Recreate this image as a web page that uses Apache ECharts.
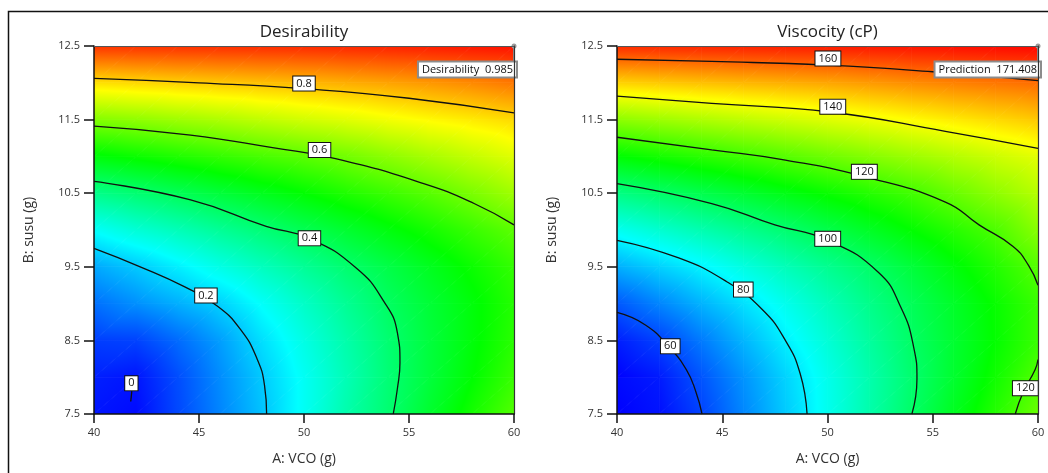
<!DOCTYPE html>
<html><head><meta charset="utf-8">
<script src="https://cdn.jsdelivr.net/npm/echarts@6/dist/echarts.min.js"></script>
<style>html,body{margin:0;padding:0;background:#fff}#c{width:1048px;height:473px}</style>
</head><body><div id="c"></div>
<script>
// ---------- data ----------
const aNodes = [40, 42, 44, 46, 48, 50, 52, 54, 56, 58, 60];          // A: VCO (g)
const bNodes = [7.5, 8, 8.5, 9, 9.5, 10, 10.5, 11, 11.5, 12, 12.5];   // B: susu (g)
const xTicks = [40, 45, 50, 55, 60];
const yTicks = [7.5, 8.5, 9.5, 10.5, 11.5, 12.5];

// Desirability surface, one row per B node (bottom to top), one column per A node
const desirability = [
  [0.02, 0.01, 0.07, 0.13, 0.19, 0.26, 0.33, 0.39, 0.455, 0.52, 0.58],
  [0.03, 0.02, 0.075, 0.137, 0.198, 0.26, 0.322, 0.385, 0.442, 0.498, 0.555],
  [0.06, 0.065, 0.105, 0.155, 0.219, 0.276, 0.333, 0.39, 0.441, 0.49, 0.54],
  [0.11, 0.141, 0.172, 0.205, 0.255, 0.305, 0.355, 0.405, 0.448, 0.49, 0.535],
  [0.165, 0.197, 0.235, 0.275, 0.314, 0.353, 0.392, 0.43, 0.47, 0.51, 0.55],
  [0.255, 0.29, 0.32, 0.353, 0.385, 0.419, 0.453, 0.487, 0.52, 0.555, 0.59],
  [0.365, 0.39, 0.416, 0.444, 0.472, 0.50, 0.53, 0.557, 0.586, 0.62, 0.657],
  [0.49, 0.51, 0.53, 0.55, 0.57, 0.588, 0.611, 0.638, 0.665, 0.692, 0.72],
  [0.628, 0.64, 0.655, 0.67, 0.688, 0.705, 0.72, 0.738, 0.755, 0.77, 0.787],
  [0.78, 0.788, 0.796, 0.804, 0.812, 0.82, 0.83, 0.84, 0.852, 0.866, 0.883],
  [0.95, 0.952, 0.954, 0.956, 0.958, 0.96, 0.964, 0.968, 0.973, 0.979, 0.985]
];
// Viscocity (cP) surface
const viscosity = [
  [50, 53.5, 59.8, 67.8, 75.8, 83.9, 91.9, 100, 108.2, 116.3, 124.4],
  [52, 55, 61.9, 69.3, 76.8, 84.3, 91.7, 99.1, 106.5, 113.9, 121.4],
  [55.5, 59.7, 66.4, 73.3, 80.2, 86.8, 93.5, 100.2, 106.3, 112.4, 118.6],
  [62.4, 67.7, 73.1, 78.4, 84.1, 90, 95.9, 101.7, 107.3, 112.9, 118.6],
  [72.6, 76.6, 80.7, 85.5, 90.3, 95.1, 99.9, 105.2, 110.6, 116, 122],
  [83.6, 87.5, 91.3, 95.2, 99, 103.3, 107.7, 112.1, 116.5, 121, 128],
  [96.6, 99.8, 103, 106.3, 109.7, 113, 116.3, 119.7, 124.2, 128.8, 133.4],
  [111.7, 114.3, 116.8, 119.4, 122.1, 124.9, 127.6, 130.4, 133.2, 136, 138.8],
  [128.6, 130.5, 132.4, 134.3, 136.2, 138.2, 140.1, 142.2, 144.3, 146.4, 148.5],
  [147.2, 148.3, 149.4, 150.5, 151.5, 152.5, 153.9, 155.4, 156.8, 158.1, 159.3],
  [167, 167.4, 167.8, 168.2, 168.6, 169, 169.4, 169.9, 170.4, 170.9, 171.4]
];

// contour lines [A, B]
const dC0   = [[41.8, 7.81], [41.75, 7.67]];
const dC02  = [[40, 9.75], [42.2, 9.5], [44.3, 9.23], [45.9, 8.96], [47.0, 8.64], [47.75, 8.26], [48.12, 7.89], [48.22, 7.5]];
const dC04  = [[40, 10.66], [44.6, 10.41], [48.2, 10.05], [50.3, 9.88], [52.5, 9.48], [53.8, 9.03], [54.45, 8.6], [54.57, 8.2], [54.45, 7.85], [54.25, 7.5]];
const dC06  = [[40, 11.41], [44.6, 11.29], [48.5, 11.12], [51.5, 10.97], [55.7, 10.63], [58.1, 10.36], [60, 10.07]];
const dC08  = [[40, 12.06], [45, 12.0], [50, 11.92], [55, 11.79], [60, 11.59]];
const vC60  = [[40, 8.88], [41.35, 8.71], [42.5, 8.4], [43.3, 8.1], [43.75, 7.8], [44.04, 7.5]];
const vC80  = [[40, 9.86], [42.93, 9.62], [45.2, 9.3], [46.9, 8.92], [48.0, 8.5], [48.7, 8.05], [49.03, 7.5]];
const vC100 = [[40, 10.63], [44.5, 10.36], [47.5, 10.07], [50, 9.86], [52.4, 9.43], [53.5, 8.94], [54.1, 8.4], [54.25, 7.98], [54.01, 7.5]];
const vC120a = [[40, 11.26], [44.5, 11.09], [48, 10.95], [51.7, 10.73], [55.6, 10.38], [57.2, 10.07], [58.8, 9.78], [59.55, 9.52], [60, 9.25]];
const vC120b = [[58.92, 7.5], [59.3, 7.8], [59.86, 8.1], [60, 8.24]];
const vC140 = [[40, 11.82], [44.5, 11.72], [50.2, 11.6], [55.6, 11.34], [60, 11.11]];
const vC160 = [[40, 12.32], [44.5, 12.29], [50, 12.24], [55, 12.15], [60, 12.03]];

// contour labels [A, B, text]
const dLabels = [[50.0, 11.99, '0.8'], [50.74, 11.087, '0.6'], [50.26, 9.887, '0.4'], [45.33, 9.11, '0.2'], [41.78, 7.917, '0']];
const vLabels = [[50.02, 12.33, '160'], [50.25, 11.675, '140'], [51.75, 10.79, '120'], [50.01, 9.88, '100'], [46.0, 9.19, '80'], [42.53, 8.42, '60'], [59.4, 7.85, '120']];

// flagged point [A, B] and its read-out
const dFlag = [60, 12.5]; const dFlagText = 'Desirability  0.985';
const vFlag = [60, 12.5]; const vFlagText = 'Prediction  171.408';

const dRange = [0, 1];
const vRange = [52, 172];
const palette = [[0, 0, 255], [0, 255, 255], [0, 255, 0], [255, 255, 0], [255, 0, 0]];

// ---------- rendering ----------
const FONT = 'Open Sans';
function colorOf(v, range) {
  let t = (v - range[0]) / (range[1] - range[0]);
  t = Math.max(0, Math.min(1, t));
  const seg = t * (palette.length - 1);
  const k = Math.min(Math.floor(seg), palette.length - 2);
  const f = seg - k;
  const c0 = palette[k], c1 = palette[k + 1];
  return 'rgb(' + [0, 1, 2].map(i => Math.round(c0[i] + (c1[i] - c0[i]) * f)).join(',') + ')';
}
function triFill(p, v, range) {
  const ax = p[1][0] - p[0][0], ay = p[1][1] - p[0][1];
  const bx = p[2][0] - p[0][0], by = p[2][1] - p[0][1];
  const dv1 = v[1] - v[0], dv2 = v[2] - v[0];
  const det = ax * by - ay * bx;
  const vmin = Math.min(v[0], v[1], v[2]), vmax = Math.max(v[0], v[1], v[2]);
  if (Math.abs(det) < 1e-9 || vmax - vmin < 1e-9) return colorOf(v[0], range);
  const gx = (dv1 * by - ay * dv2) / det;
  const gy = (ax * dv2 - bx * dv1) / det;
  const g2 = gx * gx + gy * gy;
  if (g2 < 1e-14) return colorOf(v[0], range);
  const s0 = (vmin - v[0]) / g2, s1 = (vmax - v[0]) / g2;
  const x0 = p[0][0] + gx * s0, y0 = p[0][1] + gy * s0;
  const x1 = p[0][0] + gx * s1, y1 = p[0][1] + gy * s1;
  const ts = [0, 1];
  for (let k = 1; k < palette.length - 1; k++) {
    const bv = range[0] + (range[1] - range[0]) * k / (palette.length - 1);
    if (bv > vmin && bv < vmax) ts.push((bv - vmin) / (vmax - vmin));
  }
  ts.sort((a, b) => a - b);
  const stops = ts.map(t => ({ offset: t, color: colorOf(vmin + (vmax - vmin) * t, range) }));
  return new echarts.graphic.LinearGradient(x0, y0, x1, y1, stops, true);
}
function makeCells(grid) {
  const cells = [];
  for (let j = 0; j < bNodes.length - 1; j++)
    for (let i = 0; i < aNodes.length - 1; i++)
      cells.push([aNodes[i], bNodes[j], aNodes[i + 1], bNodes[j + 1],
                  grid[j][i], grid[j][i + 1], grid[j + 1][i], grid[j + 1][i + 1]]);
  return cells;
}
function surfaceSeries(grid, range, gi) {
  return {
    type: 'custom', xAxisIndex: gi * 2, yAxisIndex: gi * 2, clip: true, silent: true, z: 1,
    encode: { x: [0, 2], y: [1, 3] },
    data: makeCells(grid),
    renderItem(params, api) {
      const a0 = api.value(0), b0 = api.value(1), a1 = api.value(2), b1 = api.value(3);
      const v00 = api.value(4), v10 = api.value(5), v01 = api.value(6), v11 = api.value(7);
      const BL = api.coord([a0, b0]), BR = api.coord([a1, b0]), TL = api.coord([a0, b1]), TR = api.coord([a1, b1]);
      const f1 = triFill([BL, BR, TR], [v00, v10, v11], range);
      const f2 = triFill([BL, TR, TL], [v00, v11, v01], range);
      return { type: 'group', children: [
        { type: 'polygon', shape: { points: [BL, BR, TR] }, style: { fill: f1, stroke: f1, lineWidth: 0.8 } },
        { type: 'polygon', shape: { points: [BL, TR, TL] }, style: { fill: f2, stroke: f2, lineWidth: 0.8 } }
      ] };
    }
  };
}
function contourSeries(pts, gi) {
  return { type: 'line', xAxisIndex: gi * 2, yAxisIndex: gi * 2, data: pts, smooth: 0.5,
           symbol: 'none', silent: true, z: 3, clip: true, lineStyle: { color: '#111', width: 1.3 } };
}
function labelSeries(labels, gi) {
  return { type: 'scatter', xAxisIndex: gi * 2, yAxisIndex: gi * 2, data: labels, symbolSize: 2, silent: true, z: 5,
           itemStyle: { color: 'rgba(0,0,0,0)' }, clip: false,
           label: { show: true, position: 'inside', opacity: 1, formatter: p => p.value[2], backgroundColor: '#fff',
                    borderColor: '#111', borderWidth: 1, padding: [2, 3, 1, 3], fontSize: 11, color: '#111', fontFamily: FONT } };
}
function flagSeries(pt, text, gi) {
  return [
    { type: 'line', xAxisIndex: gi * 2, yAxisIndex: gi * 2, data: [pt, [pt[0], pt[1] - 0.2]], symbol: 'none', silent: true, z: 6,
      lineStyle: { color: '#8c8c8c', width: 2 } },
    { type: 'scatter', xAxisIndex: gi * 2, yAxisIndex: gi * 2, data: [pt], symbol: 'circle', symbolSize: 5, silent: true, z: 7, clip: false,
      itemStyle: { color: '#9a9a9a', opacity: 1 },
      label: { show: true, position: 'bottom', distance: 0, align: 'right', verticalAlign: 'top', offset: [2, 14], opacity: 1,
               formatter: text, backgroundColor: '#ffffff', borderColor: '#8c8c8c', borderWidth: 2, padding: [2, 3, 1, 3],
               fontSize: 11, color: '#111', fontFamily: FONT } }
  ];
}
function xAxes(gi) {
  return [
    { gridIndex: gi, type: 'value', position: 'bottom', min: 40, max: 60, z: 10,
      axisLine: { show: true, onZero: false, lineStyle: { color: '#111', width: 1.5 } },
      axisTick: { show: true, inside: false, length: 9, customValues: xTicks, lineStyle: { color: '#111', width: 1.5 } },
      axisLabel: { customValues: xTicks, fontSize: 11, color: '#333', margin: 13, fontFamily: FONT },
      splitLine: { show: false },
      name: 'A: VCO (g)', nameLocation: 'middle', nameGap: 38,
      nameTextStyle: { fontSize: 14, color: '#333', fontFamily: FONT } },
    { gridIndex: gi, type: 'value', position: 'top', min: 40, max: 60, z: 10,
      axisLine: { show: true, onZero: false, lineStyle: { color: '#555', width: 1 } },
      axisTick: { show: false }, axisLabel: { show: false }, splitLine: { show: false } }
  ];
}
function yAxes(gi) {
  return [
    { gridIndex: gi, type: 'value', position: 'left', min: 7.5, max: 12.5, z: 10,
      axisLine: { show: true, onZero: false, lineStyle: { color: '#111', width: 1.5 } },
      axisTick: { show: true, inside: false, length: 10, customValues: yTicks, lineStyle: { color: '#111', width: 1.5 } },
      axisLabel: { customValues: yTicks, fontSize: 11, color: '#333', margin: 14, fontFamily: FONT },
      splitLine: { show: false },
      name: 'B: susu (g)', nameLocation: 'middle', nameGap: 58, nameRotate: 90,
      nameTextStyle: { fontSize: 14, color: '#333', fontFamily: FONT } },
    { gridIndex: gi, type: 'value', position: 'right', min: 7.5, max: 12.5, z: 10,
      axisLine: { show: true, onZero: false, lineStyle: { color: '#333', width: 1.2 } },
      axisTick: { show: false }, axisLabel: { show: false }, splitLine: { show: false } }
  ];
}

const chart = echarts.init(document.getElementById('c'), null, { renderer: 'canvas' });
chart.setOption({
  animation: false,
  backgroundColor: '#fff',
  textStyle: { fontFamily: FONT },
  title: [
    { text: 'Desirability', left: 304, top: 24, textAlign: 'center', padding: 0,
      textStyle: { fontSize: 17, fontWeight: 'normal', color: '#222', fontFamily: FONT } },
    { text: 'Viscocity (cP)', left: 827.5, top: 24, textAlign: 'center', padding: 0,
      textStyle: { fontSize: 17, fontWeight: 'normal', color: '#222', fontFamily: FONT } }
  ],
  grid: [
    { left: 94, top: 46, width: 420, height: 368 },
    { left: 617, top: 46, width: 421, height: 368 }
  ],
  xAxis: [...xAxes(0), ...xAxes(1)],
  yAxis: [...yAxes(0), ...yAxes(1)],
  graphic: [
    { type: 'rect', silent: true, z: 100, shape: { x: 8.5, y: 11.5, width: 1100, height: 600 },
      style: { fill: 'none', stroke: '#111', lineWidth: 1.5 } }
  ],
  series: [
    surfaceSeries(desirability, dRange, 0),
    contourSeries(dC0, 0), contourSeries(dC02, 0), contourSeries(dC04, 0),
    contourSeries(dC06, 0), contourSeries(dC08, 0),
    labelSeries(dLabels, 0),
    ...flagSeries(dFlag, dFlagText, 0),
    surfaceSeries(viscosity, vRange, 1),
    contourSeries(vC60, 1), contourSeries(vC80, 1), contourSeries(vC100, 1), contourSeries(vC120a, 1),
    contourSeries(vC120b, 1), contourSeries(vC140, 1), contourSeries(vC160, 1),
    labelSeries(vLabels, 1),
    ...flagSeries(vFlag, vFlagText, 1)
  ]
});
</script></body></html>
